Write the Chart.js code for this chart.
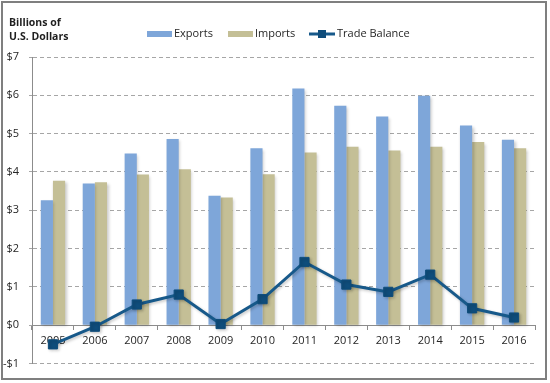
<!DOCTYPE html>
<html>
<head>
<meta charset="utf-8">
<script src="https://cdn.jsdelivr.net/npm/chart.js@4.4.1/dist/chart.umd.min.js"></script>
<style>
  html, body { margin: 0; padding: 0; background: #fff; }
  #wrap { width: 550px; height: 383px; position: relative; }
</style>
</head>
<body>
<div id="wrap"><canvas id="c"></canvas></div>
<script>
const years = ['2005','2006','2007','2008','2009','2010','2011','2012','2013','2014','2015','2016'];
const exportsVals = [3.26, 3.70, 4.48, 4.86, 3.38, 4.62, 6.18, 5.73, 5.45, 5.99, 5.21, 4.84];
const importsVals = [3.77, 3.73, 3.93, 4.07, 3.33, 3.94, 4.51, 4.66, 4.56, 4.66, 4.78, 4.62];
const balanceVals = [-0.50, -0.04, 0.54, 0.80, 0.03, 0.68, 1.65, 1.06, 0.87, 1.32, 0.44, 0.20];
const seriesNames = ['Exports', 'Imports', 'Trade Balance'];
const titleLines = ['Billions of', 'U.S. Dollars'];

const COL_EXP = '#7ea6d9';
const COL_IMP = '#c4bf96';
const COL_LINE = '#17598a';
const COL_MARK = '#0f4d7b';
const FONT = '"Open Sans", "Liberation Sans", sans-serif';

const decorPlugin = {
  id: 'decor',
  beforeDraw(chart) {
    const ctx = chart.ctx;
    ctx.save();
    ctx.fillStyle = '#fff';
    ctx.fillRect(0, 0, chart.width, chart.height);
    ctx.restore();
  },
  beforeDatasetDraw(chart, args) {
    const ctx = chart.ctx;
    ctx.save();
    ctx.shadowColor = 'rgba(0,0,0,0.22)';
    ctx.shadowBlur = 3;
    ctx.shadowOffsetX = 1.5;
    ctx.shadowOffsetY = 1.5;
  },
  afterDatasetDraw(chart) {
    chart.ctx.restore();
  },
  afterDraw(chart) {
    const ctx = chart.ctx;
    ctx.save();
    // outer border
    ctx.strokeStyle = '#7f7f7f';
    ctx.lineWidth = 2;
    ctx.strokeRect(2, 2, 544, 377);
    // title
    ctx.fillStyle = '#1f1f1f';
    ctx.font = 'bold 10.5px ' + FONT;
    ctx.textBaseline = 'middle';
    ctx.textAlign = 'left';
    ctx.fillText(titleLines[0], 9, 23.5);
    ctx.fillText(titleLines[1], 9, 37.5);
    // legend
    const ly = 34;
    ctx.font = '11px ' + FONT;
    ctx.fillStyle = COL_EXP;
    ctx.fillRect(147, ly - 3, 25, 6);
    ctx.fillStyle = COL_IMP;
    ctx.fillRect(228, ly - 3, 25, 6);
    ctx.strokeStyle = COL_LINE;
    ctx.lineWidth = 3;
    ctx.beginPath();
    ctx.moveTo(309, ly);
    ctx.lineTo(335, ly);
    ctx.stroke();
    ctx.fillStyle = COL_MARK;
    ctx.fillRect(318, ly - 4, 8, 8);
    ctx.fillStyle = '#262626';
    ctx.fillText(seriesNames[0], 174, ly);
    ctx.fillText(seriesNames[1], 255, ly);
    ctx.fillText(seriesNames[2], 337, ly);
    ctx.restore();
  }
};

new Chart(document.getElementById('c'), {
  type: 'bar',
  data: {
    labels: years,
    datasets: [
      {
        type: 'line',
        label: seriesNames[2],
        data: balanceVals,
        borderColor: COL_LINE,
        borderWidth: 3,
        backgroundColor: COL_MARK,
        pointStyle: 'rect',
        pointRadius: 6.5,
        pointBackgroundColor: COL_MARK,
        pointBorderColor: COL_MARK,
        pointBorderWidth: 1,
        tension: 0,
        order: 0
      },
      {
        label: seriesNames[0],
        data: exportsVals,
        backgroundColor: COL_EXP,
        categoryPercentage: 0.58,
        barPercentage: 1.0,
        order: 1
      },
      {
        label: seriesNames[1],
        data: importsVals,
        backgroundColor: COL_IMP,
        categoryPercentage: 0.58,
        barPercentage: 1.0,
        order: 2
      }
    ]
  },
  options: {
    responsive: true,
    maintainAspectRatio: false,
    animation: false,
    layout: { padding: { left: 0, right: 15, top: 57, bottom: 19.5 } },
    plugins: {
      legend: { display: false },
      tooltip: { enabled: false },
      title: { display: false }
    },
    scales: {
      x: {
        type: 'category',
        position: { y: 0 },
        grid: {
          display: true,
          drawOnChartArea: false,
          drawTicks: true,
          tickLength: 4,
          color: '#8c8c8c',
          offset: true
        },
        border: { display: true, color: '#8c8c8c', width: 1 },
        ticks: {
          color: '#262626',
          font: { family: FONT, size: 11 },
          padding: 5,
          maxRotation: 0,
          autoSkip: false
        }
      },
      y: {
        min: -1,
        max: 7,
        afterFit(scale) { scale.width = 32; },
        ticks: {
          stepSize: 1,
          color: '#262626',
          font: { family: FONT, size: 11 },
          padding: 10,
          callback: (v) => (v < 0 ? '-$' + Math.abs(v) : '$' + v)
        },
        grid: {
          color: '#a6a6a6',
          lineWidth: 1,
          tickLength: 3,
          drawTicks: true
        },
        border: { display: true, color: '#8c8c8c', width: 1, dash: [4, 3] }
      }
    }
  },
  plugins: [decorPlugin]
});
</script>
</body>
</html>
